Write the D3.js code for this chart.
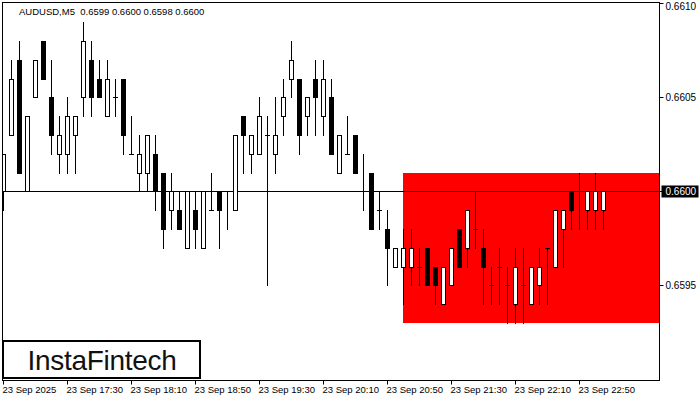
<!DOCTYPE html>
<html><head><meta charset="utf-8">
<script src="https://cdn.jsdelivr.net/npm/d3@7/dist/d3.min.js"></script>
<style>
html,body{margin:0;padding:0;background:#fff;}
svg{display:block;}
text{font-family:"Liberation Sans",Arial,sans-serif;}
</style></head>
<body>
<svg id="chart" width="700" height="400"></svg>
<script>
const symbolTitle = "AUDUSD,M5  0.6599 0.6600 0.6598 0.6600";
const opens = [0.6600,0.6603,0.6607,0.6600,0.6605,0.6608,0.6605,0.6602,0.6602,0.6603,
 0.6605,0.6607,0.6606,0.6604,0.6605,0.6606,0.6602,0.6601,0.6601,0.6602,
 0.6601,0.6599,0.6599,0.6597,0.6599,0.6597,0.6599,0.6600,0.6600,0.6599,
 0.6604,0.6602,0.6602,0.6603,0.6602,0.6604,0.6606,0.6606,0.6604,0.6606,
 0.6604,0.6605,0.6601,0.6602,0.6603,0.6600,0.6601,0.6599,0.6598,0.6596,
 0.6596,0.6596,0.6596,0.6597,0.6596,0.6594,0.6595,0.6598,0.6597,0.6598,
 0.6597,0.6595,0.6596,0.6595,0.6594,0.6595,0.6594,0.6595,0.6597,0.6596,
 0.6598,0.6600,0.6600,0.6599,0.6599,0.6599];
const highs = [0.6602,0.6607,0.6608,0.6604,0.6607,0.6608,0.6607,0.6604,0.6605,0.6604,
 0.6609,0.6608,0.6607,0.6607,0.6606,0.6606,0.6604,0.6603,0.6603,0.6603,
 0.6601,0.6601,0.6600,0.6600,0.6600,0.6600,0.6601,0.6600,0.6600,0.6603,
 0.6604,0.6603,0.6605,0.6604,0.6605,0.6606,0.6608,0.6606,0.6605,0.6607,
 0.6607,0.6606,0.6603,0.6604,0.6603,0.6602,0.6601,0.6600,0.6599,0.6597,
 0.6598,0.6598,0.6597,0.6597,0.6596,0.6596,0.6597,0.6598,0.6599,0.6600,
 0.6598,0.6596,0.6597,0.6596,0.6597,0.6597,0.6596,0.6597,0.6597,0.6599,
 0.6599,0.6600,0.6601,0.6600,0.6601,0.6600];
const lows = [0.6599,0.6603,0.6601,0.6600,0.6605,0.6606,0.6602,0.6601,0.6601,0.6601,
 0.6604,0.6604,0.6605,0.6604,0.6604,0.6602,0.6602,0.6600,0.6600,0.6599,
 0.6597,0.6598,0.6598,0.6597,0.6597,0.6597,0.6599,0.6597,0.6598,0.6599,
 0.6601,0.6601,0.6602,0.6595,0.6601,0.6603,0.6605,0.6602,0.6603,0.6603,
 0.6603,0.6602,0.6601,0.6602,0.6601,0.6599,0.6598,0.6598,0.6595,0.6596,
 0.6594,0.6595,0.6595,0.6595,0.6594,0.6594,0.6595,0.6596,0.6596,0.6597,
 0.6594,0.6594,0.6594,0.6593,0.6593,0.6593,0.6594,0.6594,0.6594,0.6596,
 0.6596,0.6598,0.6598,0.6598,0.6598,0.6598];
const closes = [0.6602,0.6606,0.6601,0.6604,0.6607,0.6606,0.6603,0.6603,0.6604,0.6604,
 0.6608,0.6605,0.6605,0.6606,0.6605,0.6603,0.6602,0.6602,0.6603,0.6600,
 0.6598,0.6600,0.6598,0.6600,0.6598,0.6600,0.6599,0.6599,0.6600,0.6603,
 0.6603,0.6603,0.6604,0.6603,0.6603,0.6605,0.6607,0.6603,0.6605,0.6605,
 0.6606,0.6602,0.6603,0.6602,0.6601,0.6600,0.6598,0.6599,0.6597,0.6597,
 0.6597,0.6597,0.6596,0.6595,0.6595,0.6596,0.6597,0.6596,0.6599,0.6598,
 0.6596,0.6595,0.6596,0.6595,0.6596,0.6595,0.6596,0.6596,0.6597,0.6599,
 0.6599,0.6599,0.6600,0.6600,0.6600,0.6600];
const timeTickIndex = [0,8,16,24,32,40,48,56,64,72];
const timeTickLabels = ["23 Sep 2025","23 Sep 17:30","23 Sep 18:10","23 Sep 18:50","23 Sep 19:30",
 "23 Sep 20:10","23 Sep 20:50","23 Sep 21:30","23 Sep 22:10","23 Sep 22:50"];
const priceTicks = [0.6595,0.6605,0.6610];
const priceTickLabels = ["0.6595","0.6605","0.6610"];
const currentPrice = 0.6600;
const zoneStartIndex = 50;
const zoneTop = 0.6601, zoneBottom = 0.6593;

const svg = d3.select("#chart");
const L = 3, R = 659, T = 2, B = 380;
const x = d3.scaleLinear().domain([0, 75]).range([3, 603]);
const y = d3.scaleLinear().domain([0.6590, 0.6610]).range([379.3, 3.3]);
const py = v => Math.round(y(v));

svg.append("defs").append("clipPath").attr("id","plot")
  .append("rect").attr("x",L).attr("y",T).attr("width",R-L).attr("height",B-T);
const plot = svg.append("g").attr("clip-path","url(#plot)");

// zone
plot.append("rect").attr("x", x(zoneStartIndex)).attr("y", py(zoneTop))
  .attr("width", R - x(zoneStartIndex)).attr("height", py(zoneBottom) - py(zoneTop))
  .attr("fill","#ff0000");

// price line
plot.append("line").attr("x1",L).attr("x2",R).attr("y1",py(currentPrice)+0.5).attr("y2",py(currentPrice)+0.5)
  .attr("stroke","#000").attr("stroke-width",1);

const data = opens.map((o,i)=>({i, o, h:highs[i], l:lows[i], c:closes[i]}));
const g = plot.selectAll("g.c").data(data).join("g").attr("class","c");
g.append("line")
  .attr("x1", d=>x(d.i)+0.5).attr("x2", d=>x(d.i)+0.5)
  .attr("y1", d=>py(d.h)).attr("y2", d=>py(d.l)+1)
  .attr("stroke","#000").attr("stroke-width",1);
g.filter(d=>d.o===d.c).append("line")
  .attr("x1", d=>x(d.i)-2).attr("x2", d=>x(d.i)+3)
  .attr("y1", d=>py(d.o)+0.5).attr("y2", d=>py(d.o)+0.5)
  .attr("stroke","#000").attr("stroke-width",1);
g.filter(d=>d.c<d.o).append("rect")
  .attr("x", d=>x(d.i)-2).attr("width",5)
  .attr("y", d=>py(d.o)).attr("height", d=>py(d.c)-py(d.o)+1)
  .attr("fill","#000");
g.filter(d=>d.c>d.o).append("rect")
  .attr("x", d=>x(d.i)-1.5).attr("width",4)
  .attr("y", d=>py(d.c)+0.5).attr("height", d=>py(d.o)-py(d.c))
  .attr("fill","#fff").attr("stroke","#000").attr("stroke-width",1);

// frame
svg.append("rect").attr("x",L-0.5).attr("y",T+0.5).attr("width",R-L+1).attr("height",B-T)
  .attr("fill","none").attr("stroke","#000").attr("stroke-width",1);

// right axis
const yAxis = d3.axisRight(y).tickValues(priceTicks).tickFormat((d,i)=>priceTickLabels[i]).tickSize(4).tickSizeOuter(0);
const ya = svg.append("g").attr("transform",`translate(${R+0.5},0)`).call(yAxis);
ya.select(".domain").remove();
ya.selectAll(".tick").attr("transform", d=>`translate(0,${py(d)+0.5})`);
ya.selectAll(".tick line").attr("stroke","#000");
ya.selectAll(".tick text").attr("x",6).attr("font-size","10px").attr("fill","#000")
  .attr("font-family","Liberation Sans, Arial, sans-serif")
  .attr("dy", d => d >= 0.6610 ? "0.6em" : "0.35em");
// current price label
const cp = svg.append("g").attr("transform",`translate(${R+0.5},${py(currentPrice)+0.5})`);
cp.append("line").attr("x1",0).attr("x2",4).attr("stroke","#000");
cp.append("rect").attr("x",2).attr("y",-6).attr("width",37).attr("height",12).attr("fill","#000");
cp.append("text").attr("x",6).attr("dy","0.35em").attr("font-size","10px").attr("fill","#fff").text(currentPrice.toFixed(4));

// bottom axis
const xAxis = d3.axisBottom(x).tickValues(timeTickIndex).tickFormat((d,i)=>timeTickLabels[i]).tickSize(4).tickSizeOuter(0);
const xa = svg.append("g").attr("transform",`translate(0,${B+0.5})`).call(xAxis);
xa.select(".domain").remove();
xa.selectAll(".tick").attr("transform", d=>`translate(${x(d)+0.5},0)`);
xa.selectAll(".tick line").attr("stroke","#000");
xa.selectAll(".tick text").attr("text-anchor","start").attr("x",-1).attr("y",6)
  .attr("font-size","9.5px").attr("fill","#000").attr("font-family","Liberation Sans, Arial, sans-serif");

// title
svg.append("text").attr("x",19).attr("y",15).attr("font-size","9.5px").attr("fill","#000")
  .attr("xml:space","preserve").style("white-space","pre").text(symbolTitle);

// logo
svg.append("rect").attr("x",3).attr("y",341).attr("width",197).attr("height",37)
  .attr("fill","#fff").attr("stroke","#000").attr("stroke-width",2);
svg.append("text").attr("x",102).attr("y",370).attr("text-anchor","middle")
  .attr("font-family","Inter, sans-serif").attr("font-weight",500).attr("font-size","28px")
  .attr("letter-spacing","-0.3px")
  .attr("fill","#111").text("InstaFintech");
</script>
</body></html>
